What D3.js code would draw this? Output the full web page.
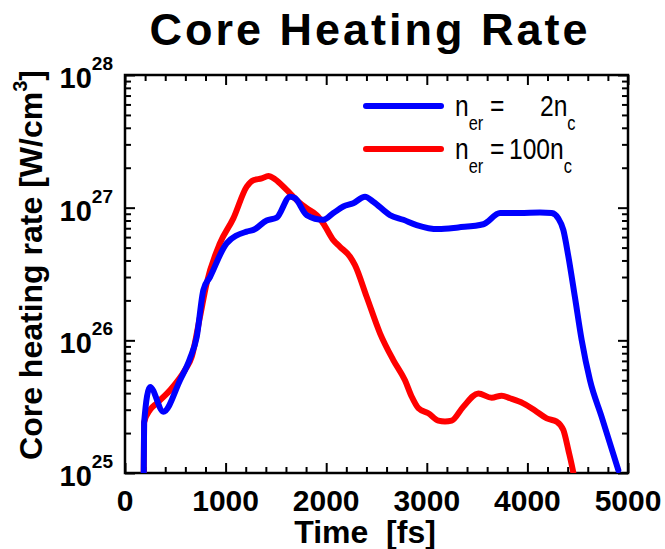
<!DOCTYPE html>
<html lang="en">
<head>
    <meta charset="UTF-8">
    <title>Core Heating Rate</title>
    <script src="https://cdn.jsdelivr.net/npm/d3@7"></script>
    <style>
        body { margin: 0; background: #fff; }
    </style>
</head>
<body>
    <script>
        const width = 665;
        const height = 549;

        const marginTop = 75;
        const marginRight = 37;
        const marginBottom = 76;
        const marginLeft = 125;

        // time in fs, heating rate in W/cm^3
        const blueTime = [185, 190, 249, 381, 547, 646, 713, 779, 845, 1011, 1210, 1276, 1408, 1508, 1640, 1690, 1806, 1971, 2071, 2170, 2269, 2386, 2468, 2634, 2767, 2899, 3115, 3313, 3562, 3728, 3926, 4125, 4241, 4307, 4357, 4407, 4473, 4540, 4622, 4738, 4904];
        const blueRate = [8e24, 2.4e25, 4.45e25, 2.9e25, 5.0e25, 7.3e25, 1.06e26, 2.4e26, 3.0e26, 5.4e26, 6.6e26, 6.8e26, 8.0e26, 8.4e26, 1.21e27, 1.18e27, 8.8e26, 8.1e26, 9.1e26, 1.02e27, 1.08e27, 1.21e27, 1.11e27, 8.8e26, 8.1e26, 7.4e26, 6.9e26, 7.1e26, 7.5e26, 9.1e26, 9.1e26, 9.2e26, 9.1e26, 8.3e26, 6.8e26, 4.3e26, 2.1e26, 1.0e26, 5.0e25, 2.65e25, 1.05e25];

        const redTime = [185, 190, 250, 315, 447, 596, 663, 745, 812, 944, 1077, 1210, 1276, 1359, 1425, 1491, 1607, 1706, 1806, 1905, 1971, 2071, 2137, 2237, 2286, 2402, 2535, 2667, 2783, 2850, 2916, 3015, 3115, 3181, 3247, 3363, 3512, 3645, 3744, 3827, 3959, 4092, 4192, 4291, 4357, 4407, 4457, 4490];
        const redRate = [8e24, 2.4e25, 3.0e25, 3.35e25, 4.2e25, 5.97e25, 7.5e25, 1.5e26, 2.7e26, 5.4e26, 8.3e26, 1.44e27, 1.61e27, 1.66e27, 1.73e27, 1.64e27, 1.36e27, 1.14e27, 9.9e26, 8.8e26, 7.6e26, 5.7e26, 5.07e26, 4.27e26, 3.69e26, 2.13e26, 1.13e26, 7.1e25, 5.0e25, 3.76e25, 3.08e25, 2.82e25, 2.48e25, 2.44e25, 2.48e25, 3.16e25, 3.98e25, 3.69e25, 3.83e25, 3.66e25, 3.35e25, 2.9e25, 2.58e25, 2.44e25, 2.11e25, 1.49e25, 1.0e25, 7e24];

        const xTicks = [0, 1000, 2000, 3000, 4000, 5000];
        const yExponents = [25, 26, 27, 28];

        const series = [
            { name: "2", color: "#0000ff", time: blueTime, rate: blueRate },
            { name: "100", color: "#ff0000", time: redTime, rate: redRate }
        ];

        const x = d3.scaleLinear()
            .domain([0, 5000])
            .range([marginLeft, width - marginRight]);

        const y = d3.scaleLog()
            .domain([1e25, 1e28])
            .range([height - marginBottom, marginTop]);

        const svg = d3.select("body").append("svg")
            .attr("width", width)
            .attr("height", height)
            .attr("viewBox", [0, 0, width, height])
            .attr("font-family", "'Liberation Sans', Arial, Helvetica");

        svg.append("defs").append("clipPath")
            .attr("id", "plot")
            .append("rect")
            .attr("x", marginLeft)
            .attr("y", marginTop)
            .attr("width", width - marginLeft - marginRight)
            .attr("height", height - marginTop - marginBottom);

        // title
        svg.append("text")
            .attr("x", 370)
            .attr("y", 45)
            .attr("text-anchor", "middle")
            .attr("font-size", 45)
            .attr("font-weight", "bold")
            .attr("letter-spacing", 3)
            .text("Core Heating Rate");

        // ticks (inward, all four sides)
        const xMinor = d3.range(0, 5001, 200).filter(d => d % 1000 !== 0);
        const yMinor = [];
        yExponents.slice(0, -1).forEach(e => {
            for (let k = 2; k <= 9; k++) yMinor.push(k * Math.pow(10, e));
        });
        const yMajor = yExponents.map(e => Math.pow(10, e));

        const tickAxis = (axis, transform) => {
            svg.append("g")
                .attr("transform", transform)
                .call(axis)
                .call(g => g.select(".domain").remove())
                .call(g => g.selectAll(".tick line").attr("stroke", "#000").attr("stroke-width", 2))
                .call(g => g.selectAll(".tick text").remove());
        };

        const bottomY = height - marginBottom;
        const rightX = width - marginRight;

        tickAxis(d3.axisBottom(x).tickValues(xTicks).tickSize(-10), `translate(0,${bottomY})`);
        tickAxis(d3.axisBottom(x).tickValues(xMinor).tickSize(-6), `translate(0,${bottomY})`);
        tickAxis(d3.axisTop(x).tickValues(xTicks).tickSize(-10), `translate(0,${marginTop})`);
        tickAxis(d3.axisTop(x).tickValues(xMinor).tickSize(-6), `translate(0,${marginTop})`);
        tickAxis(d3.axisLeft(y).tickValues(yMajor).tickSize(-10), `translate(${marginLeft},0)`);
        tickAxis(d3.axisLeft(y).tickValues(yMinor).tickSize(-6), `translate(${marginLeft},0)`);
        tickAxis(d3.axisRight(y).tickValues(yMajor).tickSize(-10), `translate(${rightX},0)`);
        tickAxis(d3.axisRight(y).tickValues(yMinor).tickSize(-6), `translate(${rightX},0)`);

        // frame
        svg.append("rect")
            .attr("x", marginLeft)
            .attr("y", marginTop)
            .attr("width", rightX - marginLeft)
            .attr("height", bottomY - marginTop)
            .attr("fill", "none")
            .attr("stroke", "#000")
            .attr("stroke-width", 2.5);

        // x tick labels
        svg.append("g")
            .selectAll("text")
            .data(xTicks)
            .join("text")
            .attr("x", d => x(d))
            .attr("y", bottomY + 38)
            .attr("text-anchor", "middle")
            .attr("font-size", 30)
            .attr("font-weight", "bold")
            .text(d => d);

        // y tick labels 10^n
        const yl = svg.append("g")
            .selectAll("text")
            .data(yExponents)
            .join("text")
            .attr("x", 113)
            .attr("y", d => y(Math.pow(10, d)) + 13)
            .attr("text-anchor", "end")
            .attr("font-size", 29)
            .attr("font-weight", "bold");
        yl.append("tspan").text("10");
        yl.append("tspan")
            .attr("dy", -18)
            .attr("font-size", 19)
            .text(d => d);

        // axis titles
        svg.append("text")
            .attr("x", 365)
            .attr("y", 543)
            .attr("text-anchor", "middle")
            .attr("font-size", 32)
            .attr("font-weight", "bold")
            .attr("xml:space", "preserve")
            .text("Time  [fs]");

        const yt = svg.append("text")
            .attr("transform", `translate(42,265) rotate(-90)`)
            .attr("text-anchor", "middle")
            .attr("font-size", 32)
            .attr("font-weight", "bold");
        yt.append("tspan").text("Core heating rate [W/cm");
        yt.append("tspan").attr("dy", -15).attr("font-size", 20).text("3");
        yt.append("tspan").attr("dy", 15).text("]");

        // curves
        const line = d3.line()
            .x(d => x(d[0]))
            .y(d => y(d[1]))
            .curve(d3.curveMonotoneX);

        svg.append("g")
            .attr("clip-path", "url(#plot)")
            .selectAll("path")
            .data(series.slice().reverse())
            .join("path")
            .attr("fill", "none")
            .attr("stroke", d => d.color)
            .attr("stroke-width", 6)
            .attr("stroke-linejoin", "round")
            .attr("stroke-linecap", "round")
            .attr("d", d => line(d.time.map((t, i) => [t, d.rate[i]])));

        // legend (narrow face imitated by horizontal squeeze)
        const squeeze = 0.82;
        const legend = svg.append("g");
        const rows = legend.selectAll("g")
            .data(series)
            .join("g")
            .attr("transform", (d, i) => `translate(0,${106 + i * 43})`);

        rows.append("line")
            .attr("x1", 366)
            .attr("x2", 441)
            .attr("stroke", d => d.color)
            .attr("stroke-width", 6)
            .attr("stroke-linecap", "round");

        const lt = rows.append("text")
            .attr("transform", `translate(455,10) scale(${squeeze},1)`)
            .attr("font-size", 30);
        lt.append("tspan").attr("x", 0).text("n");
        lt.append("tspan").attr("dy", 14).attr("font-size", 20).text("er");
        lt.append("tspan").attr("x", (490 - 455) / squeeze).attr("dy", -14).text("=");
        lt.append("tspan")
            .attr("x", d => ((d.name === "2" ? 540 : 509) - 455) / squeeze)
            .text(d => d.name + "n");
        lt.append("tspan").attr("dy", 14).attr("font-size", 20).text("c");
    </script>
</body>
</html>
